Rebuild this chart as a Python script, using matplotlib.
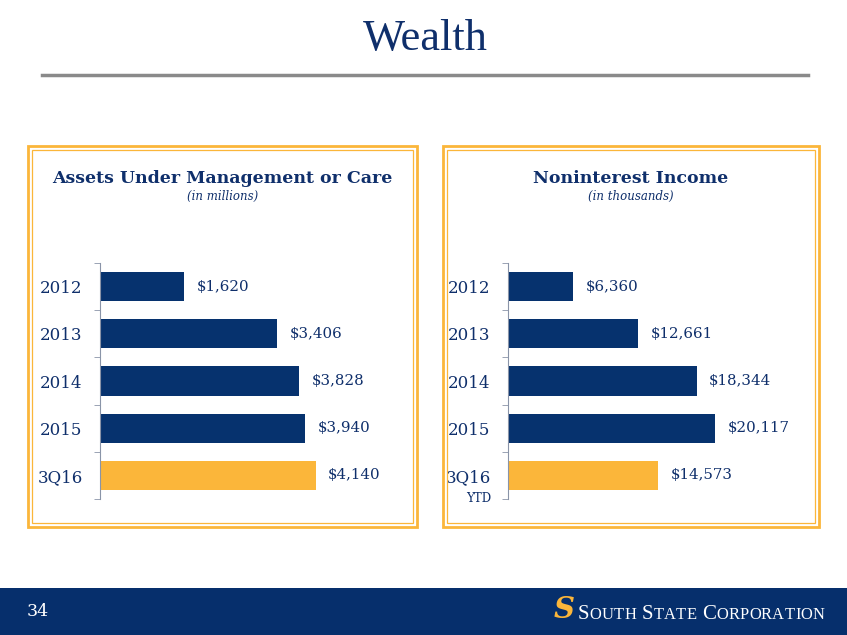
import matplotlib
matplotlib.use("Agg")
import matplotlib.pyplot as plt
from matplotlib.patches import Rectangle

# data
years = ["2012", "2013", "2014", "2015", "3Q16"]
aum = [1620, 3406, 3828, 3940, 4140]          # $ millions
nii = [6360, 12661, 18344, 20117, 14573]      # $ thousands

NAVY = "#06326e"
GOLD = "#fbb63a"
TEXT = "#0f2f6b"
SERIF = ["DejaVu Serif"]

W, H = 847, 635
fig = plt.figure(figsize=(W / 100, H / 100), dpi=100)
fig.patch.set_facecolor("white")


def fx(x):
    return x / W


def fy(y):
    return 1 - y / H


# slide title and rule
fig.text(fx(425), fy(39), "Wealth", ha="center", va="center",
         fontsize=32, color=TEXT, family=["Liberation Serif"])
fig.add_artist(plt.Line2D([fx(42), fx(808)], [fy(75), fy(75)],
                          color="#8a8a8a", lw=2.5))


def panel(x0, x1, title, sub, values, xmax, fmt, ytd=False):
    y0, y1 = 146, 527
    # double gold frame
    fig.add_artist(Rectangle((fx(x0), fy(y1)), fx(x1 - x0), (y1 - y0) / H,
                             transform=fig.transFigure, fill=False,
                             ec=GOLD, lw=2))
    fig.add_artist(Rectangle((fx(x0 + 4), fy(y1 - 4)), fx(x1 - x0 - 8),
                             (y1 - y0 - 8) / H, transform=fig.transFigure,
                             fill=False, ec=GOLD, lw=0.9))
    cx = (x0 + x1) / 2
    fig.text(fx(cx), fy(178), title, ha="center", va="center",
             fontsize=12.5, weight="bold", color=TEXT, family=SERIF)
    fig.text(fx(cx), fy(196), sub, ha="center", va="center",
             fontsize=8.5, style="italic", color=TEXT, family=SERIF)

    ax_left = x0 + 72 if not ytd else x0 + 65
    ax = fig.add_axes([fx(ax_left), fy(499), fx(x1 - 20 - ax_left),
                       236 / H])
    pos = list(range(len(values)))
    colors = [NAVY] * (len(values) - 1) + [GOLD]
    bars = ax.barh(pos, values, height=0.62, color=colors)
    ax.set_xlim(0, xmax)
    ax.set_ylim(len(values) - 0.5, -0.5)
    for b, v in zip(bars, values):
        ax.annotate(fmt(v), (b.get_width(), b.get_y() + b.get_height() / 2),
                    xytext=(9, 0), textcoords="offset points",
                    ha="left", va="center", fontsize=10.8, color=TEXT,
                    family=SERIF)
    for s in ["top", "right", "bottom"]:
        ax.spines[s].set_visible(False)
    ax.spines["left"].set_color("#8a94a8")
    ax.set_xticks([])
    ax.set_yticks(pos)
    ax.set_yticklabels(years, fontsize=12, color=TEXT, family=SERIF)
    ax.tick_params(axis="y", which="major", length=0, pad=12.5)
    ax.set_yticks([p - 0.5 for p in pos] + [len(values) - 0.5], minor=True)
    ax.tick_params(axis="y", which="minor", length=4, color="#8a94a8")
    ax.patch.set_alpha(0)
    if ytd:
        fig.text(fx(ax_left - 17), fy(498), "YTD", ha="right", va="center",
                 fontsize=8.5, color=TEXT, family=SERIF)
    return ax


panel(28, 417, "Assets Under Management or Care", "(in millions)",
      aum, 5700, lambda v: f"${v:,}")
panel(443, 819, "Noninterest Income", "(in thousands)",
      nii, 28300, lambda v: f"${v:,}", ytd=True)

# footer band
fig.add_artist(Rectangle((0, 0), 1, (635 - 588) / H,
                         transform=fig.transFigure, color="#062f6c", lw=0))
fig.text(fx(27), fy(612), "34", ha="left", va="center", fontsize=12.5,
         color="white", family=SERIF)
fig.text(fx(564), fy(610), "S", ha="center", va="center", fontsize=21,
         weight="bold", style="italic", color=GOLD, family=SERIF)

# small caps company name
renderer = fig.canvas.get_renderer()
x = fx(578)
for word in ["SOUTH", "STATE", "CORPORATION"]:
    for i, ch in enumerate(word):
        t = fig.text(x, fy(619), ch, ha="left", va="baseline",
                     fontsize=15 if i == 0 else 11.9, color="white",
                     family=["Liberation Serif"])
        bb = t.get_window_extent(renderer)
        x += bb.width / W + 0.3 / W
    x += 5 / W

fig.savefig("out.png", dpi=100, facecolor=fig.get_facecolor())
